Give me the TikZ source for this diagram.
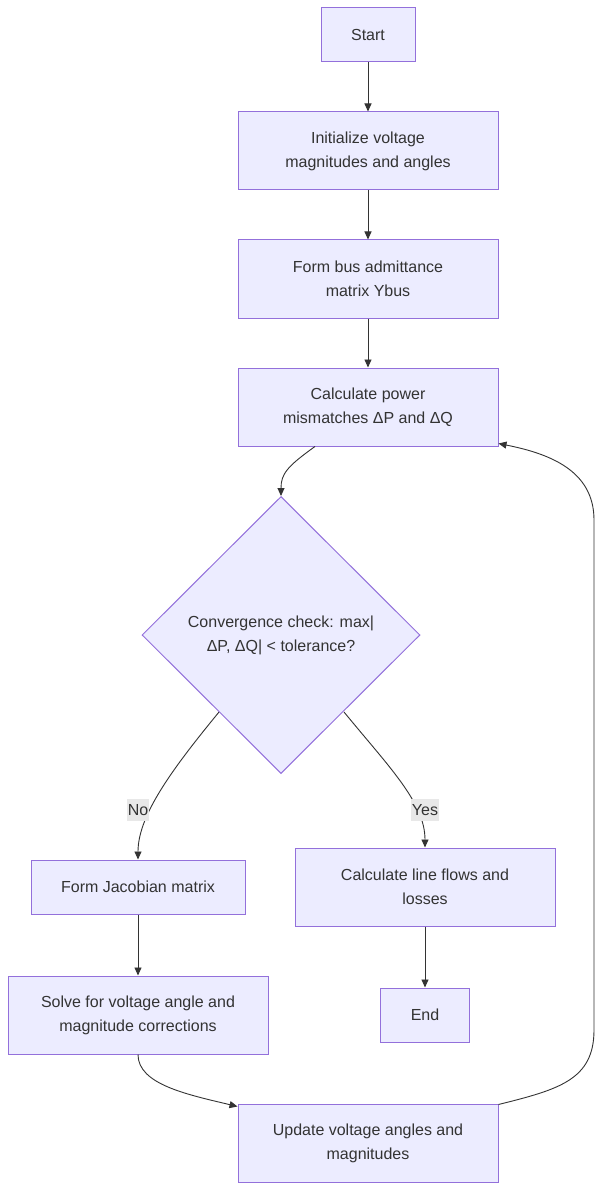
\documentclass[tikz,border=0pt]{standalone}
\usepackage{fontspec}
\setmainfont{Liberation Sans}
\usetikzlibrary{shapes.geometric,arrows.meta}
\definecolor{nodefill}{HTML}{ECECFF}
\definecolor{nodeline}{HTML}{9370DB}
\definecolor{txt}{HTML}{333333}
\definecolor{lblbg}{HTML}{E8E8E8}
\tikzset{
  box/.style={draw=nodeline, fill=nodefill, line width=1pt, inner sep=0pt, align=center, text=txt, font=\fontsize{16}{24}\selectfont},
  dia/.style={diamond, draw=nodeline, fill=nodefill, line width=1pt, inner sep=0pt, minimum width=278pt, minimum height=277pt, align=center, text=txt, font=\fontsize{16}{24}\selectfont},
  conn/.style={draw=txt, line width=0.9pt, -{Triangle[length=8pt,width=7pt]}},
  lbl/.style={fill=lblbg, text=txt, inner xsep=0.5pt, inner ysep=0pt, minimum height=22pt, font=\fontsize{16}{20}\selectfont}
}
\begin{document}
\begin{tikzpicture}[x=1pt,y=-1pt]
\useasboundingbox (0,0) rectangle (602,1190);
\node[box, minimum width=94pt, minimum height=54pt] (start) at (368,35) {Start};
\node[box, minimum width=260pt, minimum height=78pt] (init) at (368,151) {Initialize voltage\\magnitudes and angles};
\node[box, minimum width=260pt, minimum height=78pt] (ybus) at (368,279) {Form bus admittance\\matrix Ybus};
\node[box, minimum width=260pt, minimum height=78pt] (calc) at (368,407) {Calculate power\\mismatches ΔP and ΔQ};
\node[dia] (conv) at (281,635) {Convergence check: max|\\ΔP, ΔQ| {<} tolerance?};
\node[box, minimum width=214pt, minimum height=54pt] (jac) at (138,887) {Form Jacobian matrix};
\node[box, minimum width=260pt, minimum height=78pt] (flows) at (425,887) {Calculate line flows and\\losses};
\node[box, minimum width=260pt, minimum height=78pt] (solve) at (138,1015) {Solve for voltage angle and\\magnitude corrections};
\node[box, minimum width=89pt, minimum height=54pt] (end) at (425,1015) {End};
\node[box, minimum width=260pt, minimum height=78pt] (upd) at (368,1143) {Update voltage angles and\\magnitudes};

\draw[conn] (start) -- (init);
\draw[conn] (init) -- (ybus);
\draw[conn] (ybus) -- (calc);
\draw[conn] ([xshift=-53pt]calc.south) .. controls +(-28,20) and +(0,-22) .. (conv.north);
\draw[conn] ([shift={(-62,77)}]conv.center) .. controls +(-45,55) and +(0,-45) .. (jac.north);
\draw[conn] ([shift={(63,77)}]conv.center) .. controls +(45,55) and +(0,-45) .. (flows.north);
\node[lbl] (no) at (138,810) {No};
\node[lbl] (yes) at (425,810) {Yes};
\draw[conn] (jac) -- (solve);
\draw[conn] (flows) -- (end);
\draw[conn] (solve.south) .. controls +(0,30) and +(-50,-12) .. ([yshift=-3pt]upd.north west);
\draw[conn] ([yshift=-1pt]upd.north east) .. controls +(60,-15) and +(0,50) .. (594,1030) -- (594,520) .. controls +(0,-50) and +(50,10) .. ([yshift=3pt]calc.south east);
\end{tikzpicture}
\end{document}
